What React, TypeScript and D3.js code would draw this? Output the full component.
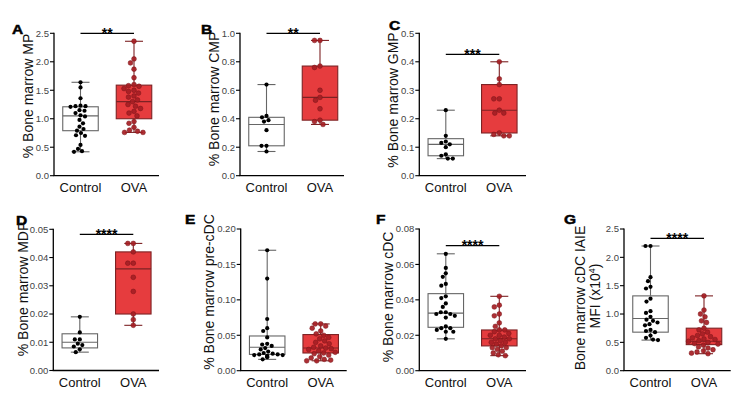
import React from "react";
import * as d3 from "d3";

const categories = ["Control", "OVA"];
const panelLetters = ["A", "B", "C", "D", "E", "F", "G"];
const yTitles = [
  "% Bone marrow MP",
  "% Bone marrow CMP",
  "% Bone marrow GMP",
  "% Bone marrow MDP",
  "% Bone marrow pre-cDC",
  "% Bone marrow cDC",
  "Bone marrow cDC IAIE",
];
const yMax = [2.5, 1.0, 0.5, 0.05, 0.2, 0.08, 2.5];
const yStep = [0.5, 0.2, 0.1, 0.01, 0.05, 0.02, 0.5];
const tickDecimals = [1, 1, 1, 2, 2, 2, 1];
const significance = ["**", "**", "***", "****", "", "****", "****"];

// A: MP
const mpControl = [1.64, 1.55, 1.36, 1.23, 1.22, 1.22, 1.21, 1.15, 1.14, 1.1, 1.06, 1.04, 0.98, 0.92, 0.86, 0.82, 0.79, 0.75, 0.71, 0.7, 0.54, 0.47, 0.43, 0.42];
const mpOVA = [2.36, 2.05, 1.98, 1.87, 1.72, 1.6, 1.58, 1.57, 1.53, 1.5, 1.48, 1.45, 1.4, 1.38, 1.33, 1.3, 1.25, 1.22, 1.18, 1.13, 1.1, 1.05, 0.95, 0.92, 0.85, 0.8, 0.78, 0.76, 0.76];
const mpControlBox = [0.42, 0.79, 1.05, 1.21, 1.64];
const mpOVABox = [0.76, 1.0, 1.3, 1.59, 2.36];

// B: CMP
const cmpControl = [0.64, 0.42, 0.41, 0.39, 0.38, 0.32, 0.21, 0.21, 0.17];
const cmpOVA = [0.95, 0.95, 0.77, 0.76, 0.6, 0.55, 0.53, 0.47, 0.39, 0.38, 0.36];
const cmpControlBox = [0.17, 0.21, 0.36, 0.41, 0.64];
const cmpOVABox = [0.36, 0.39, 0.55, 0.77, 0.95];

// C: GMP
const gmpControl = [0.23, 0.14, 0.12, 0.115, 0.11, 0.1, 0.075, 0.07, 0.06, 0.06];
const gmpOVA = [0.4, 0.34, 0.32, 0.27, 0.27, 0.23, 0.22, 0.22, 0.15, 0.145, 0.14, 0.14];
const gmpControlBox = [0.06, 0.07, 0.11, 0.13, 0.23];
const gmpOVABox = [0.14, 0.15, 0.23, 0.32, 0.4];

// D: MDP
const mdpControl = [0.019, 0.0135, 0.011, 0.011, 0.0095, 0.009, 0.0085, 0.0075, 0.0065];
const mdpOVA = [0.045, 0.045, 0.042, 0.038, 0.038, 0.033, 0.028, 0.02, 0.018, 0.016];
const mdpControlBox = [0.0065, 0.008, 0.01, 0.013, 0.019];
const mdpOVABox = [0.016, 0.02, 0.036, 0.042, 0.045];

// E: pre-cDC
const precdcControl = [0.17, 0.13, 0.073, 0.06, 0.056, 0.047, 0.038, 0.037, 0.035, 0.032, 0.03, 0.027, 0.025, 0.024, 0.023, 0.023, 0.022, 0.022, 0.021, 0.02, 0.019, 0.016];
const precdcOVA = [0.066, 0.066, 0.063, 0.06, 0.056, 0.052, 0.05, 0.047, 0.045, 0.042, 0.04, 0.038, 0.035, 0.033, 0.032, 0.031, 0.03, 0.028, 0.026, 0.025, 0.024, 0.022, 0.02, 0.018, 0.016, 0.015, 0.014, 0.014];
const precdcControlBox = [0.016, 0.023, 0.033, 0.049, 0.17];
const precdcOVABox = [0.014, 0.025, 0.032, 0.051, 0.066];

// F: cDC
const cdcControl = [0.066, 0.058, 0.055, 0.053, 0.049, 0.048, 0.042, 0.041, 0.038, 0.036, 0.033, 0.033, 0.032, 0.032, 0.031, 0.03, 0.025, 0.024, 0.024, 0.023, 0.022, 0.022, 0.018];
const cdcOVA = [0.042, 0.037, 0.036, 0.032, 0.031, 0.027, 0.025, 0.023, 0.023, 0.022, 0.021, 0.02, 0.02, 0.019, 0.018, 0.018, 0.017, 0.016, 0.016, 0.015, 0.014, 0.013, 0.013, 0.012, 0.011, 0.01, 0.009, 0.0085];
const cdcControlBox = [0.018, 0.0245, 0.0325, 0.0435, 0.066];
const cdcOVABox = [0.0085, 0.014, 0.018, 0.023, 0.042];

// G: cDC IAIE MFI
const mfiControl = [2.2, 2.2, 1.65, 1.58, 1.48, 1.45, 1.27, 1.22, 1.05, 1.02, 0.95, 0.9, 0.88, 0.85, 0.82, 0.8, 0.72, 0.7, 0.68, 0.62, 0.58, 0.55, 0.54];
const mfiOVA = [1.32, 1.07, 1.0, 0.95, 0.88, 0.85, 0.75, 0.72, 0.68, 0.65, 0.62, 0.6, 0.58, 0.56, 0.55, 0.53, 0.52, 0.5, 0.48, 0.47, 0.45, 0.42, 0.4, 0.37, 0.35, 0.33, 0.31, 0.3];
const mfiControlBox = [0.54, 0.68, 0.92, 1.32, 2.2];
const mfiOVABox = [0.3, 0.46, 0.52, 0.75, 1.32];

const controlValues = [mpControl, cmpControl, gmpControl, mdpControl, precdcControl, cdcControl, mfiControl];
const ovaValues = [mpOVA, cmpOVA, gmpOVA, mdpOVA, precdcOVA, cdcOVA, mfiOVA];
const controlBoxes = [mpControlBox, cmpControlBox, gmpControlBox, mdpControlBox, precdcControlBox, cdcControlBox, mfiControlBox];
const ovaBoxes = [mpOVABox, cmpOVABox, gmpOVABox, mdpOVABox, precdcOVABox, cdcOVABox, mfiOVABox];

// layout (positions only)
const layouts = [
  { axisX: 54, xEnd: 159, top: 33.3, bottom: 175.7, letterX: 12, letterY: 33.5, titleX: 33, titleY: 96, sigY: 33.3 },
  { axisX: 240, xEnd: 344, top: 33.3, bottom: 175.7, letterX: 201, letterY: 33.5, titleX: 219, titleY: 99, sigY: 33.3 },
  { axisX: 419.3, xEnd: 526, top: 33.3, bottom: 175.7, letterX: 389, letterY: 30, titleX: 398, titleY: 100, sigY: 54.3 },
  { axisX: 53.3, xEnd: 159, top: 229.3, bottom: 370.5, letterX: 16, letterY: 225, titleX: 28, titleY: 289, sigY: 234.3 },
  { axisX: 240.7, xEnd: 346.7, top: 229, bottom: 370.7, letterX: 185, letterY: 224, titleX: 214, titleY: 292, sigY: 0 },
  { axisX: 419.3, xEnd: 526, top: 229, bottom: 370.7, letterX: 376, letterY: 224, titleX: 393, titleY: 297, sigY: 245.7 },
  { axisX: 624, xEnd: 730.7, top: 229, bottom: 370.7, letterX: 564, letterY: 223.5, titleX: 585, titleY: 298, sigY: 238.3 },
];

const FONT = "'Liberation Sans', Arial, Helvetica, sans-serif";
const RED_FILL = "#e63c3e";
const RED_STROKE = "#7d2224";
const RED_DOT = "#a61e24";
const BOX_W = 35.5;
const CAP_W = 18;

function swarm(values: number[], y: d3.ScaleLinear<number, number>, r: number, maxHalf: number) {
  const sorted = values.map((v, i) => ({ v, i, y: y(v), x: 0 })).sort((a, b) => a.y - b.y);
  const placed: { x: number; y: number }[] = [];
  const minD = 2 * r + 0.4;
  const step = 0.5;
  for (const p of sorted) {
    let chosen = 0;
    for (let k = 0; k < 200; k++) {
      const off = (k % 2 === 0 ? 1 : -1) * Math.ceil(k / 2) * step;
      if (Math.abs(off) > maxHalf) { chosen = 0; break; }
      const ok = placed.every((q) => (q.x - off) ** 2 + (q.y - p.y) ** 2 >= minD * minD);
      if (ok) { chosen = off; break; }
    }
    p.x = chosen;
    placed.push({ x: chosen, y: p.y });
  }
  return sorted;
}

function Panel({ idx }: { idx: number }) {
  const L = layouts[idx];
  const y = d3.scaleLinear().domain([0, yMax[idx]]).range([L.bottom, L.top]);
  const x = d3.scalePoint<string>().domain(categories).range([L.axisX + 26.5, L.axisX + 80]);
  const ticks = d3.range(0, yMax[idx] + yStep[idx] / 2, yStep[idx]);
  const fmt = d3.format(`.${tickDecimals[idx]}f`);
  const groups = [
    { cat: categories[0], vals: controlValues[idx], box: controlBoxes[idx], ctrl: true },
    { cat: categories[1], vals: ovaValues[idx], box: ovaBoxes[idx], ctrl: false },
  ];
  const cx0 = x(categories[0])!;
  const cx1 = x(categories[1])!;
  return (
    <g>
      {/* panel letter */}
      <text x={0} y={0} transform={`translate(${L.letterX},${L.letterY}) scale(1.15,1)`} fontSize={13.5} fontWeight={900} fontFamily={FONT} fill="#000" stroke="#000" strokeWidth={0.5}>
        {panelLetters[idx]}
      </text>
      {/* y title */}
      {idx < 6 ? (
        <text transform={`translate(${L.titleX},${L.titleY}) rotate(-90)`} textAnchor="middle" fontSize={14} fontFamily={FONT} fill="#111">
          {yTitles[idx]}
        </text>
      ) : (
        <g>
          <text transform={`translate(${L.titleX},${L.titleY}) rotate(-90)`} textAnchor="middle" fontSize={14} fontFamily={FONT} fill="#111">
            {yTitles[idx]}
          </text>
          <text transform={`translate(${L.titleX + 15},${L.titleY - 2}) rotate(-90)`} textAnchor="middle" fontSize={14} fontFamily={FONT} fill="#111">
            MFI (x10<tspan dy={-5} fontSize={9}>4</tspan><tspan dy={5}>)</tspan>
          </text>
        </g>
      )}
      {/* y axis */}
      <line x1={L.axisX} x2={L.axisX} y1={L.top - 0.6} y2={L.bottom} stroke="#000" strokeWidth={1.3} />
      {ticks.map((t) => (
        <g key={t}>
          <line x1={L.axisX - 4} x2={L.axisX} y1={y(t)} y2={y(t)} stroke="#000" strokeWidth={1.1} />
          <text x={L.axisX - 5} y={y(t)} dy="0.35em" textAnchor="end" fontSize={9.5} fontFamily={FONT} fill="#444">
            {fmt(t)}
          </text>
        </g>
      ))}
      {/* x axis */}
      <line x1={L.axisX - 0.6} x2={L.xEnd} y1={L.bottom} y2={L.bottom} stroke="#000" strokeWidth={1.3} />
      {categories.map((c) => (
        <text key={c} x={x(c)} y={L.bottom + 16} textAnchor="middle" fontSize={13} fontFamily={FONT} fill="#111">
          {c}
        </text>
      ))}
      {/* boxes */}
      {groups.map((g) => {
        const cx = x(g.cat)!;
        const [mn, q1, md, q3, mx] = g.box;
        const stroke = g.ctrl ? "#666" : RED_STROKE;
        return (
          <g key={g.cat}>
            <line x1={cx} x2={cx} y1={y(mx)} y2={y(q3)} stroke={stroke} strokeWidth={1.1} />
            <line x1={cx} x2={cx} y1={y(q1)} y2={y(mn)} stroke={stroke} strokeWidth={1.1} />
            <line x1={cx - CAP_W / 2} x2={cx + CAP_W / 2} y1={y(mx)} y2={y(mx)} stroke={stroke} strokeWidth={1.1} />
            <line x1={cx - CAP_W / 2} x2={cx + CAP_W / 2} y1={y(mn)} y2={y(mn)} stroke={stroke} strokeWidth={1.1} />
            <rect x={cx - BOX_W / 2} y={y(q3)} width={BOX_W} height={y(q1) - y(q3)} fill={g.ctrl ? "#fff" : RED_FILL} stroke={stroke} strokeWidth={1.1} />
            <line x1={cx - BOX_W / 2} x2={cx + BOX_W / 2} y1={y(md)} y2={y(md)} stroke={stroke} strokeWidth={1.1} />
          </g>
        );
      })}
      {/* dots */}
      {groups.map((g) => {
        const cx = x(g.cat)!;
        const r = g.ctrl ? 2.1 : 2.4;
        const pts = swarm(g.vals, y, r, BOX_W / 2 - 2);
        return (
          <g key={g.cat + "d"}>
            {pts.map((p, i) => (
              <circle key={i} cx={cx + p.x} cy={p.y} r={r} fill={g.ctrl ? "#000" : RED_DOT} stroke={g.ctrl ? "none" : "#7a1418"} strokeWidth={0.5} fillOpacity={g.ctrl ? 1 : 0.92} />
            ))}
          </g>
        );
      })}
      {/* significance */}
      {significance[idx] && (
        <g>
          <line x1={cx0} x2={cx1} y1={L.sigY} y2={L.sigY} stroke="#000" strokeWidth={1.2} />
          <text x={(cx0 + cx1) / 2} y={L.sigY + 4.2} textAnchor="middle" fontSize={14} fontWeight={700} fontFamily={FONT} fill="#000">
            {significance[idx]}
          </text>
        </g>
      )}
    </g>
  );
}

export default function App() {
  return (
    <svg width={739} height={420} style={{ position: "absolute", left: 0, top: 0, background: "#fff" }}>
      <rect width={739} height={420} fill="#fff" />
      {layouts.map((_, i) => (
        <Panel key={i} idx={i} />
      ))}
    </svg>
  );
}
